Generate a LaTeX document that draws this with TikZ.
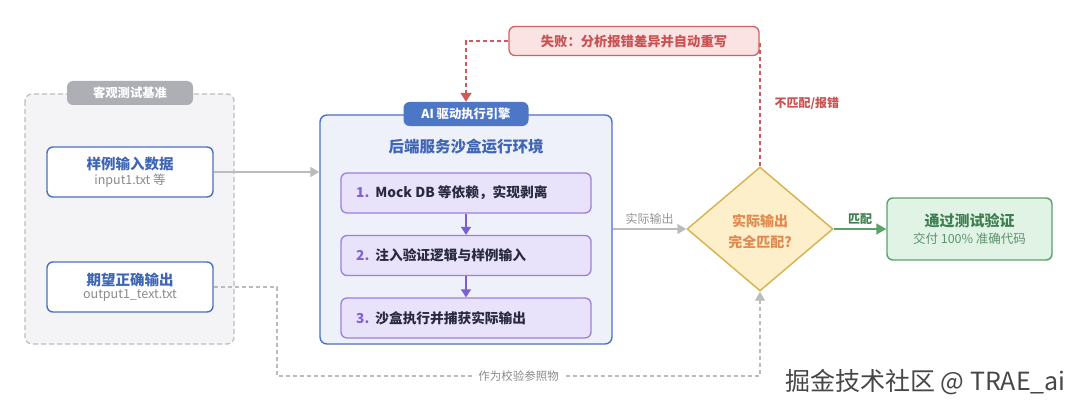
\documentclass[tikz,border=0pt]{standalone}
\usepackage{fontspec}
\setmainfont{Noto Sans CJK SC}
\usetikzlibrary{arrows.meta,shapes.geometric,calc}
\definecolor{grpbg}{HTML}{F4F4F6}
\definecolor{grpbd}{HTML}{BDBDBD}
\definecolor{tabgray}{HTML}{ADAFB4}
\definecolor{bluebd}{HTML}{4A72C0}
\definecolor{bluetx}{HTML}{3F66B5}
\definecolor{engbg}{HTML}{EEF1FA}
\definecolor{tabblue}{HTML}{4E76C6}
\definecolor{stepbg}{HTML}{E8E2FA}
\definecolor{stepbd}{HTML}{9C80DA}
\definecolor{stepnum}{HTML}{8262D2}
\definecolor{steptx}{HTML}{2A2A3E}
\definecolor{purparr}{HTML}{7C5FD2}
\definecolor{diabg}{HTML}{FDEFC9}
\definecolor{diabd}{HTML}{D8B14C}
\definecolor{diatx}{HTML}{E08A50}
\definecolor{grnbg}{HTML}{E1F3E5}
\definecolor{grnbd}{HTML}{5BA16A}
\definecolor{grntx}{HTML}{3F7F52}
\definecolor{failbg}{HTML}{FBE3E3}
\definecolor{failbd}{HTML}{D06262}
\definecolor{failtx}{HTML}{C95252}
\definecolor{reddash}{HTML}{D05A5A}
\definecolor{grayarr}{HTML}{BBBBBB}
\definecolor{subgray}{HTML}{8A8A8A}
\tikzset{
  inbox/.style={draw=bluebd,line width=1.4pt,fill=white,rounded corners=6pt,minimum width=166pt,minimum height=50pt,align=center,inner sep=0pt},
  stepbox/.style={draw=stepbd,line width=1.3pt,fill=stepbg,rounded corners=6pt,minimum width=250pt,minimum height=40pt,inner sep=0pt},
  grayarrow/.style={draw=grayarr,line width=1.4pt,-{Triangle[length=9pt,width=10pt]}},
  purparrow/.style={draw=purparr,line width=1.4pt,-{Triangle[length=8pt,width=10pt]}},
}
\begin{document}
\begin{tikzpicture}[x=1pt,y=-1pt]
\useasboundingbox (0,0) rectangle (1080,412);
\fill[white] (0,0) rectangle (1080,412);
% left group
\draw[grpbd,fill=grpbg,line width=1.2pt,dash pattern=on 5pt off 3pt,rounded corners=7pt] (25,94) rectangle (234,344);
\node[fill=tabgray,rounded corners=6pt,minimum width=126pt,minimum height=24pt,inner sep=0pt,text=white,font=\fontsize{12.3}{14}\selectfont\bfseries] (grptab) at (130,93) {客观测试基准};
\node[inbox] (inp) at (130,172) {\textcolor{bluetx}{\fontsize{14.5}{17}\selectfont\bfseries 样例输入数据}\\[1.5pt]\textcolor{subgray}{\fontsize{12.5}{15}\selectfont input1.txt 等}};
\node[inbox] (exp) at (130,287) {\textcolor{bluetx}{\fontsize{14.5}{17}\selectfont\bfseries 期望正确输出}\\[1.5pt]\textcolor{subgray}{\fontsize{12.5}{15}\selectfont output1\_text.txt}};
% engine
\node[draw=bluebd,line width=1.4pt,fill=engbg,rounded corners=7pt,minimum width=292pt,minimum height=229pt,inner sep=0pt] (eng) at (466,229.5) {};
\node[fill=tabblue,rounded corners=6pt,minimum width=125pt,minimum height=24pt,inner sep=0pt,text=white,font=\fontsize{12.3}{14}\selectfont\bfseries] (engtab) at (466,114) {AI 驱动执行引擎};
\node[text=bluetx,font=\fontsize{15.5}{18}\selectfont\bfseries] (engtitle) at (466,147) {后端服务沙盒运行环境};
\node[stepbox] (s1) at (466,193) {};
\node[stepbox] (s2) at (466,255.5) {};
\node[stepbox] (s3) at (466,318) {};
\node[anchor=west,font=\fontsize{13.7}{16}\selectfont\bfseries,inner sep=0pt] at (356,193) {\textcolor{stepnum}{1.}\hspace{6pt}\textcolor{steptx}{Mock DB 等依赖，实现剥离}};
\node[anchor=west,font=\fontsize{13.7}{16}\selectfont\bfseries,inner sep=0pt] at (356,255.5) {\textcolor{stepnum}{2.}\hspace{6pt}\textcolor{steptx}{注入验证逻辑与样例输入}};
\node[anchor=west,font=\fontsize{13.7}{16}\selectfont\bfseries,inner sep=0pt] at (356,318) {\textcolor{stepnum}{3.}\hspace{6pt}\textcolor{steptx}{沙盒执行并捕获实际输出}};
\draw[purparrow] (s1) -- (s2);
\draw[purparrow] (s2) -- (s3);
% diamond
\node[diamond,draw=diabd,line width=1.4pt,fill=diabg,minimum width=146pt,minimum height=124pt,inner sep=0pt,aspect=1.18] (dia) at (760,229) {};
\node[align=center,text=diatx,font=\fontsize{14}{21}\selectfont\bfseries] (diatext) at (760,232) {实际输出\\完全匹配?};
% green
\node[draw=grnbd,line width=1.4pt,fill=grnbg,rounded corners=6pt,minimum width=165pt,minimum height=62pt,inner sep=0pt,align=center] (ok) at (969.5,229) {\textcolor{grntx}{\fontsize{15}{18}\selectfont\bfseries 通过测试验证}\\[4pt]\textcolor{grntx!85!white}{\fontsize{12.5}{15}\selectfont 交付 100\% 准确代码}};
% fail
\node[draw=failbd,line width=1.3pt,fill=failbg,rounded corners=6pt,minimum width=250pt,minimum height=29pt,inner sep=0pt,text=failtx,font=\fontsize{13.3}{15}\selectfont\bfseries] (fail) at (634,41) {失败：分析报错差异并自动重写};
% arrows
\draw[grayarrow] (inp.east) -- (eng.west |- inp.east);
\draw[grayarrow] (eng.east |- dia) -- node[above=1pt,text=subgray!90!white,font=\fontsize{12}{14}\selectfont] {实际输出} (dia.west);
\draw[draw=grnbd,line width=1.6pt,-{Triangle[length=10pt,width=11pt]}] (dia.east) -- node[above=0pt,text=grntx,font=\fontsize{12}{14}\selectfont\bfseries] {匹配} (ok.west);
\draw[reddash,line width=1.4pt,dash pattern=on 4pt off 3pt] (dia.north) -- (dia.north |- fail.east) -- (fail.east);
\node[text=failtx,font=\fontsize{12}{14}\selectfont\bfseries,anchor=west] (nomatch) at (771,103) {不匹配/报错};
\draw[reddash,line width=1.4pt,dash pattern=on 4pt off 3pt,-{Triangle[length=9pt,width=11pt,fill=reddash]}] (fail.west) -- (466,41) -- (engtab.north);
\coordinate (bl) at (277,376);
\draw[grayarr,line width=1.2pt,dash pattern=on 4pt off 3pt,-{Triangle[length=9pt,width=10pt]}] (exp.east) -- (bl |- exp.east) -- (bl) -- node[fill=white,text=subgray,font=\fontsize{11.5}{13}\selectfont,inner sep=5pt] {作为校验参照物} (dia.south |- bl) -- (dia.south);
% watermark
\node[anchor=east,text=black!72,font=\fontsize{25}{29}\selectfont,inner sep=0pt] (wm) at (1066,382) {掘金技术社区 @ TRAE\_ai};
\end{tikzpicture}
\end{document}
